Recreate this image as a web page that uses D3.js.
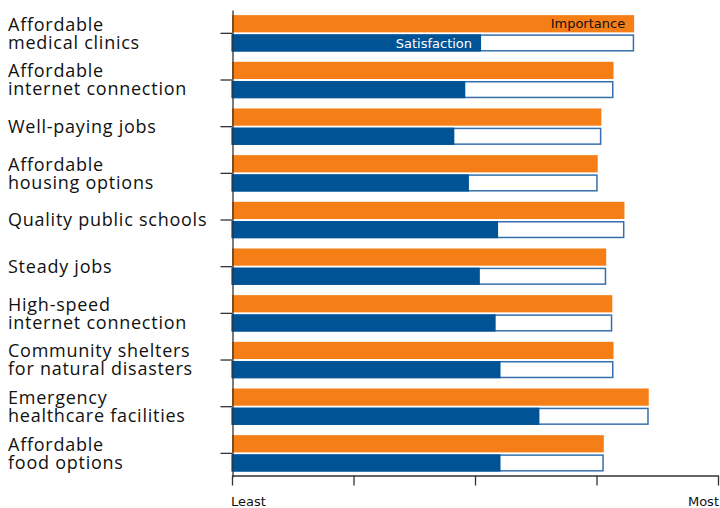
<!DOCTYPE html>
<html><head><meta charset="utf-8">
<script src="https://cdn.jsdelivr.net/npm/d3@7"></script>
<style>body{margin:0;background:#fff}svg{display:block}</style>
</head><body>
<svg id="c" width="720" height="508"></svg>
<script>
const categories = [
  ["Affordable","medical clinics"],
  ["Affordable","internet connection"],
  ["Well-paying jobs"],
  ["Affordable","housing options"],
  ["Quality public schools"],
  ["Steady jobs"],
  ["High-speed","internet connection"],
  ["Community shelters","for natural disasters"],
  ["Emergency","healthcare facilities"],
  ["Affordable","food options"]
];
const importance   = [4.31, 4.14, 4.04, 4.01, 4.23, 4.08, 4.13, 4.14, 4.43, 4.06];
const satisfaction = [3.05, 2.92, 2.83, 2.95, 3.19, 3.04, 3.17, 3.21, 3.53, 3.21];
const tickValues = [1, 2, 3, 4, 5];
const tickLabels = ["Least", "", "", "", "Most"];

const svg = d3.select("#c");
const keys = categories.map((d,i)=>i);
const x = d3.scaleLinear().domain([1,5]).range([232,718]);
const y = d3.scaleBand().domain(keys).range([10,476.7]).paddingInner(0.22).paddingOuter(0.11);
const bh = (y.bandwidth()-2)/2;

const orange = "#f57e16", blue = "#005496", outline = "#3670ab";

const g = svg.append("g");
keys.forEach(i=>{
  const y0 = y(i);
  g.append("rect").attr("x",x(1)).attr("y",y0).attr("width",x(importance[i])-x(1)).attr("height",bh).attr("fill",orange);
  g.append("rect").attr("x",x(1)).attr("y",y0+bh+2.75).attr("width",x(importance[i])-x(1)-0.75).attr("height",bh-1.5)
    .attr("fill","#fff").attr("stroke",outline).attr("stroke-width",1.5);
  g.append("rect").attr("x",x(1)).attr("y",y0+bh+2).attr("width",x(satisfaction[i])-x(1)).attr("height",bh).attr("fill",blue);
});

// in-bar legend labels on first row
g.append("text").attr("x",x(importance[0])-9).attr("y",y(0)+bh/2).attr("dy","0.36em")
  .attr("text-anchor","end").attr("font-family","DejaVu Sans").attr("font-size",13).attr("fill","#111").text("Importance");
g.append("text").attr("x",x(satisfaction[0])-9).attr("y",y(0)+bh+2+bh/2).attr("dy","0.36em")
  .attr("text-anchor","end").attr("font-family","DejaVu Sans").attr("font-size",13).attr("fill","#fff").text("Satisfaction");

// y axis
const ya = svg.append("g").attr("transform","translate(232.5,0)")
  .call(d3.axisLeft(y).tickSize(12).tickSizeOuter(0).tickFormat(""));
ya.selectAll("path,line").attr("stroke","#333").attr("stroke-width",1.3);

// category labels
keys.forEach(i=>{
  const c = y(i)+y.bandwidth()/2;
  const lines = categories[i];
  const lh = 18;
  const t = svg.append("text").attr("font-family","Open Sans").attr("font-size",18)
    .attr("letter-spacing","0.75px").attr("fill","#111");
  lines.forEach((ln,j)=>{
    t.append("tspan").attr("x",8).attr("y",c + (j-(lines.length-1)/2)*lh).attr("dy","0.35em").text(ln);
  });
});

// x axis
const xa = svg.append("g").attr("transform","translate(0,475.5)")
  .call(d3.axisBottom(x).tickValues(tickValues).tickSize(10).tickSizeOuter(0).tickFormat(""));
xa.selectAll("path,line").attr("stroke","#333").attr("stroke-width",1.3);
tickValues.forEach((v,i)=>{
  if(!tickLabels[i]) return;
  svg.append("text").attr("x",x(v)+(i===0?-1:1)).attr("y",506)
    .attr("text-anchor",i===0?"start":"end").attr("font-family","DejaVu Sans").attr("font-size",13).attr("fill","#111").text(tickLabels[i]);
});
</script>
</body></html>
